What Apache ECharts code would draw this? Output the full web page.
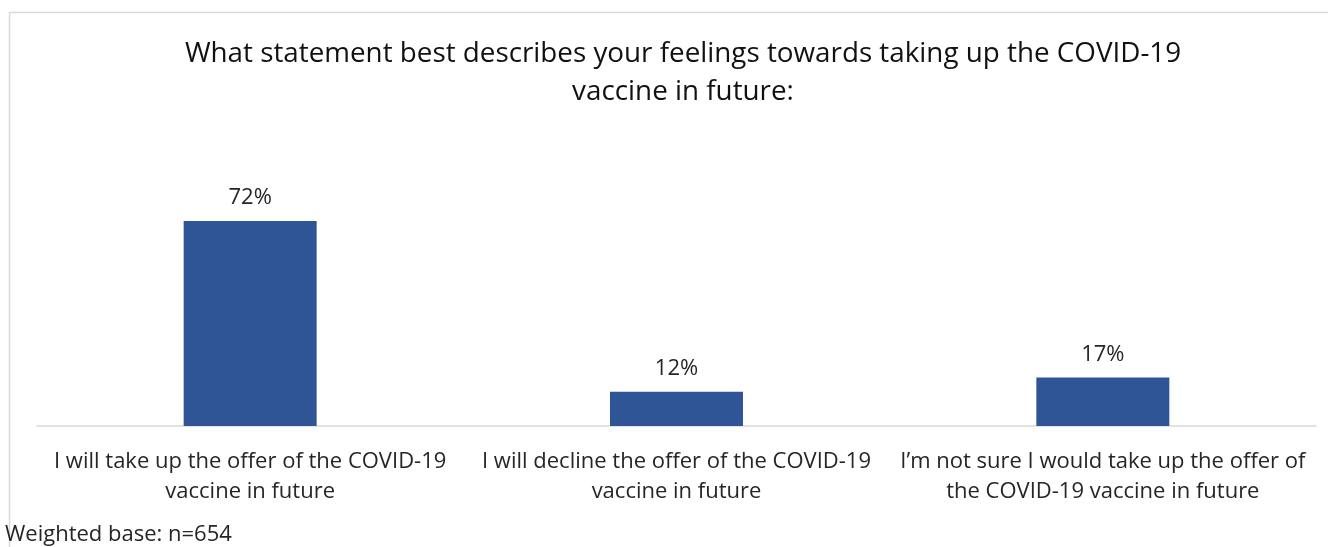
<!DOCTYPE html>
<html>
<head>
<meta charset="utf-8">
<script src="https://cdn.jsdelivr.net/npm/echarts@6/dist/echarts.min.js"></script>
<style>
  html, body { margin: 0; padding: 0; background: #ffffff; }
  #chart { width: 1328px; height: 547px; }
</style>
</head>
<body>
<div id="chart"></div>
<script>
// Survey responses on future COVID-19 vaccine uptake
const categories = [
  'I will take up the offer of the COVID-19\nvaccine in future',
  'I will decline the offer of the COVID-19\nvaccine in future',
  'I\u2019m not sure I would take up the offer of\nthe COVID-19 vaccine in future'
];
const percentages = [72, 12, 17];
const titleText = 'What statement best describes your feelings towards taking up the COVID-19\nvaccine in future:';
const baseNote = 'Weighted base: n=654';

const FONT = '"Open Sans", "Noto Sans", sans-serif';
const chart = echarts.init(document.getElementById('chart'), null, { renderer: 'canvas' });

chart.setOption({
  backgroundColor: '#ffffff',
  animation: false,
  graphic: [
    {
      type: 'rect',
      shape: { x: 9.5, y: 12.5, width: 1330, height: 560 },
      style: { fill: 'none', stroke: '#d9d9d9', lineWidth: 1.5 },
      silent: true
    },
    {
      type: 'text',
      left: 5,
      top: 524,
      style: { text: baseNote, font: '22px ' + FONT, fill: '#262626' }
    }
  ],
  title: {
    text: titleText,
    left: 678,
    top: 30,
    textAlign: 'center',
    textStyle: {
      fontFamily: FONT,
      fontSize: 27.8,
      fontWeight: 'normal',
      color: '#111111',
      lineHeight: 38
    }
  },
  grid: { left: 37, right: 12, top: 141.3, bottom: 121, containLabel: false },
  xAxis: {
    type: 'category',
    data: categories,
    axisLine: { lineStyle: { color: '#d9d9d9', width: 1.5 } },
    axisTick: { show: false },
    axisLabel: {
      interval: 0,
      margin: 21,
      fontFamily: FONT,
      fontSize: 22,
      color: '#262626',
      lineHeight: 30
    }
  },
  yAxis: {
    type: 'value',
    min: 0,
    max: 100,
    show: false,
    splitLine: { show: false }
  },
  series: [{
    type: 'bar',
    data: percentages,
    barWidth: 133,
    itemStyle: { color: '#2f5597' },
    label: {
      show: true,
      position: 'top',
      distance: 12,
      formatter: p => p.value + '%',
      fontFamily: FONT,
      fontSize: 22,
      color: '#262626'
    }
  }]
});
</script>
</body>
</html>
